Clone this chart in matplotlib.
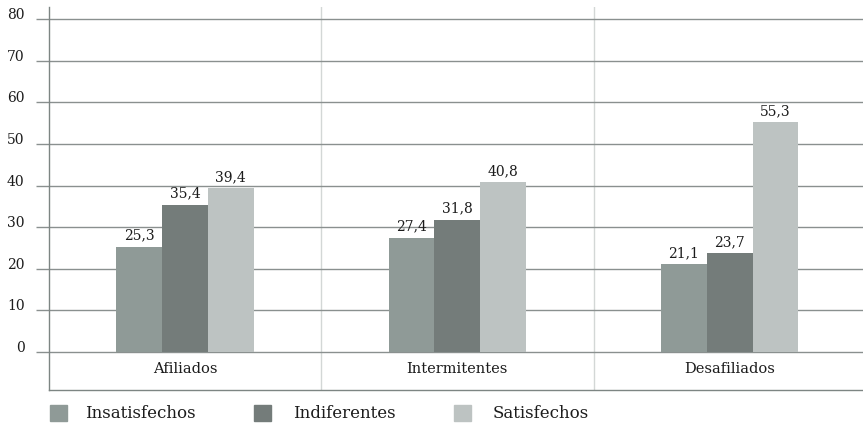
import matplotlib.pyplot as plt
from matplotlib.patches import Rectangle

categories = ['Afiliados', 'Intermitentes', 'Desafiliados']
series = ['Insatisfechos', 'Indiferentes', 'Satisfechos']
insatisfechos = [25.3, 27.4, 21.1]
indiferentes = [35.4, 31.8, 23.7]
satisfechos = [39.4, 40.8, 55.3]
yticks = [0, 10, 20, 30, 40, 50, 60, 70, 80]

colors = ['#8f9a97', '#747c7a', '#bdc3c2']
grid_col = '#8a908f'
sep_col = '#d3d7d6'
txt_col = '#1c1c1c'

plt.rcParams['font.family'] = ['DejaVu Serif']

W, H = 863, 426
fig = plt.figure(figsize=(W / 100, H / 100), dpi=100)
ax = fig.add_axes([48.7 / W, 1 - 390 / H, (W - 48.7) / W, (390 - 7.3) / H])

width = 0.168
values = [insatisfechos, indiferentes, satisfechos]
x = range(len(categories))
for i, vals in enumerate(values):
    pos = [c + (i - 1) * width for c in x]
    bars = ax.bar(pos, vals, width, color=colors[i], zorder=3)
    for b, v in zip(bars, vals):
        ax.text(b.get_x() + b.get_width() / 2, v + 1.0, f'{v:.1f}'.replace('.', ','),
                ha='center', va='bottom', fontsize=10, color=txt_col, zorder=4)

for y in yticks:
    ax.axhline(y, color=grid_col, lw=1, zorder=2)
for s in [0.5, 1.5]:
    ax.axvline(s, color=sep_col, lw=1, zorder=1)

for c, name in zip(x, categories):
    ax.text(c, -4.16, name, ha='center', va='center', fontsize=10.5, color=txt_col)

ax.set_xlim(-0.5, -0.5 + (W - 48.7) / 272.4)
ax.set_ylim(-9.2, 82.9)
ax.set_yticks(yticks)
ax.set_xticks([])
# ticks act as the short stubs of the gridlines left of the axis
ax.tick_params(axis='y', length=9.4, color=grid_col, width=1, pad=8,
               labelsize=10, labelcolor=txt_col)
for lab in ax.get_yticklabels():
    lab.set_verticalalignment('baseline')
for sp in ['top', 'right']:
    ax.spines[sp].set_visible(False)
for sp in ['left', 'bottom']:
    ax.spines[sp].set_color('#7d8583')
    ax.spines[sp].set_linewidth(1)

# legend drawn by hand to match the spacing of the original
sq_left = [50, 254, 454]
txt_left = [85, 293, 493]
for c, name, sx, tx in zip(colors, series, sq_left, txt_left):
    fig.patches.append(Rectangle((sx / W, 1 - 421 / H), 17 / W, 16 / H,
                                 transform=fig.transFigure, color=c))
    fig.text(tx / W, 1 - 413 / H, name, ha='left', va='center', fontsize=12, color=txt_col)

fig.savefig('out.png', dpi=100)
